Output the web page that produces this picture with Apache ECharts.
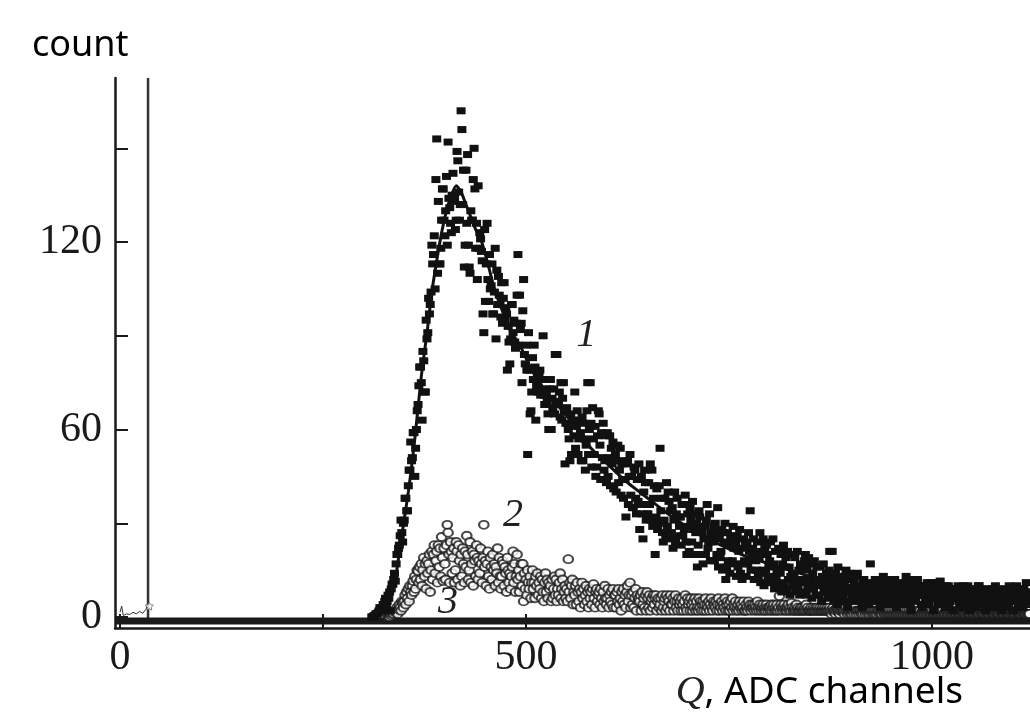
<!DOCTYPE html>
<html><head><meta charset="utf-8">
<script src="https://cdn.jsdelivr.net/npm/echarts@6/dist/echarts.min.js"></script>
<style>html,body{margin:0;padding:0;background:#fff}#c{width:1030px;height:718px}</style>
</head><body><div id="c"></div>
<script>
// axis ticks / labels
const xTicks = [0, 250, 500, 750, 1000];
const xLabels = [0, 500, 1000];
const yTicks = [0, 30, 60, 90, 120, 150];
const yLabels = [0, 60, 120];

// curve 1 (filled squares): one value per ADC channel, starting at channel s1Start
const s1Start = 310;
const s1 = [
0,0,0,0.5,0.5,1,1,1,1.5,2,
3,2,2,3,4,3,5,6,4,5,
7,6,8,2,9,10.5,10.5,12,14,11.5,
17,20,20,22,23,26,31,27,24,30,
31,38,38,34,34,42,47,47,56,50,
51,59,59,45,54,60,66,68,74,80,
80,75,63,85,82,72,72,95,89,91,
102,97,100,104,119,113,116,122,105,140,
153,110,133,113,113,118,127,137,137,127,
122,130,141,119,152,134,131,126,123,135,
142,133,134,124,127,149,146,136,127,132,
162,156,132,143,112,119,143,126,148,119,
112,110,130,127,127,140,150,137,118,126,
108,138,118,123,121,117,114,97,91,124,
101,113,126,108,101,116,105,106,113,97,
97,104,118,89,111,100,109,103,100,96,
107,94,102,107,95,99,97,79,93,88,
81,89,100,100,91,95,88,86,94,103,
116,87,103,92,94,75,98,108,84,81,
87,79,52,91,79,65,66,72,83,76,
87,80,63,74,78,72,77,79,71,76,
76,90,71,68,73,71,69,65,60,73,
76,60,70,67,73,65,84,69,84,68,
68,72,64,75,63,70,75,66,49,62,
67,62,60,57,50,65,52,52,63,58,
72,54,61,66,52,57,63,59,50,64,
50,62,57,47,55,66,75,52,60,75,
62,48,67,57,52,61,45,48,58,66,
65,55,44,59,51,62,47,50,58,43,
59,45,51,58,42,54,49,56,41,51,
52,40,50,55,43,47,54,39,49,44,
38,50,44,32,49,50,36,45,52,39,
45,35,35,48,47,38,33,44,37,49,
28,36,45,33,25,40,47,43,31,33,
33,43,36,49,31,47,29,38,42,20,
32,41,28,30,42,54,34,38,27,24,
31,38,26,43,29,40,37,25,34,27,
35,22,31,40,24,33,38,26,32,29,
32,23,36,26,36,28,39,24,20,33,
29,21,35,31,24,37,28,33,20,27,
30,16,23,34,32,20,29,27,17,25,
29,20,31,36,22,24,33,18,27,26,
24,29,18,30,27,20,35,16,25,19,
21,28,15,27,24,30,12,16,27,18,
23,14,26,25,18,29,22,17,24,13,
26,16,21,28,14,22,12,17,25,18,
23,13,24,17,27,21,34,15,19,22,
25,12,20,18,15,24,13,19,27,11,
21,15,25,10,22,14,23,20,12,16,
18,24,11,13,25,17,9,21,12,15,
15,22,10,14,20,8,17,23,11,16,
19,9,21,12,16,7,13,20,14,10,
13,19,8,12,21,10,15,7,17,11,
8,16,12,18,20,7,15,10,19,9,
12,17,6,14,9,18,11,7,16,10,
11,7,16,12,5,13,17,8,12,10,
14,9,6,15,21,12,7,21,10,5,
8,14,12,4,16,10,6,13,9,12,
7,13,11,5,15,9,3,12,8,14,
12,6,5,9,11,8,9,13,14,7,
6,9,10,5,3,11,12,7,8,10,
11,6,4,9,17,8,9,5,7,11,
12,8,5,9,10,6,3,11,9,7,
13,5,6,10,11,8,4,9,8,12,
10,7,6,11,12,5,3,8,9,10,
7,9,11,6,4,10,8,5,13,9,
6,11,10,4,2,9,8,12,11,6,
5,12,12,7,7,10,9,4,3,8,
10,7,6,9,11,5,4,8,8,11,
10,6,2,9,7,8,11,4,5,10,
11.5,7,6,9,9,5,3,10,8,6,
10,4,5,8,7,9,2,6,9,7,
6,9,10,5,4,7,8,3,3,10,
9,5,6,8,10,4,2,9,7,6,
5,8,9,4,3,7,7,10,10,5,
4,8,8,6,6,3,2,9,9,5,
5,7,8,4,3,9,7,6,10,5,
4,8,6,3,9,7,2,6,7,9,
5,6,8,4,3,10,9,5,6,8,
2,7,7,5,10,6,4,9,6,3,
8,5,3,9,7,4,11,6,5,8,
8
];

// curve 2 (open circles): one value per channel, starting at s2Start
const s2Start = 330;
const s2 = [
0,0.5,0,1,0.5,1,1.5,1,2,1.5,
2,3,1,2.5,4,3,2,5,4.5,3,
5,7,4,8,6,9,5,10,8,7,
10,11.5,8,13,9,12,15,14.7,11,16,
12,17,10,15,19,13,17,9,18,14,
17,20,8,15,21,12,20,23,14,18,
21,11,23,16,22,13,25.6,19,11.5,22,
17,12,23,29.5,27,20,11,24,21,14,
19,22,11,15,24,21,12,23,18,10,
20,13,22,17,11,21,16,26,20,12,
15,24,11,17,21,10,20,18,13,23,
19,12,18,14,22,17,11,19,29.5,16,
18,10,17,21,13,9,19,16,12,20,
15,17,10,16,14,22,11,19,13,9,
13,18,17,10,16,14,8,19,15,11,
14,9,13,16,21,11,17,8,13,20,
12,15,8,13,17,10,17,5,14,9,
12,7,15,11,9,13,6,11,15,9,
11,6,13,10,14,7,11,9,13,6,
12,8,5,11,14,8,12,6,11,9,
10,5,12,6,9,13,7,12,5,9,
7,11,14,6,9,12,5,8,10,6,
9,5,18.5,8,11,6,10,12,4,8,
7,10,4,11,8,5,9,3,8,11,
6,9,4,7,10,5,8,3,9,6,
8,4,9,10.5,6,3,8,9,5,7,
8,4,9,6,3,8,5,10,6,4,
6,9,3,7,5,8,4,9,3,7,
7,3,8,5,9,4,6,2,8,5,
9,4,7,3,8,10,5,7,11,3,
7,4,8,3,6,9,2,7,5,6,
5,7,2,8,4,6,3,7,2,8,
6,3,7,2,5,6,3,7,4,6,
7,2,5,6,3,4,6,2,7,3,
5,6,2,7,3,6,5,2,7,4,
4,6,2,5,7,3,5,2,6,4,
5,2,6,4,2,5,7,3,2,6,
4,5,2,6,4,2,5,3,6,2,
5,3,2,6,3,5,2,4,5,2,
4,6,2,4,3,5,2,4,6,3,
2,5,4,3,5,2,4,6,2,4,
3,5,2,4,3,6,2,4,5,2,
4,2,5,3,6,2,4,3,5,2,
3,4,2,5,3,4,2,3,5,2,
2,4,3,2,5,3,4,2,3,4,
3,2,4,3,2,5,3,2,4,3,
2,3,4,2,3,2,4,3,2,3,
3,2,4,2,3,4,2,3,2,4,
2,3,6.7,2,4,3,2,3,4,2,
3,2,3,4,2,3,2,4.5,3,2,
2,3,2,4,2,3,2,2,3,2,
3,2,2,3,2,4,2,3,2,2,
2,3,2,2,3,2,2,3,2,3,
2,2,3,2,2,3,2,2,3,2,
2,3,2,2,3,2,1,2,3,2,
2,1,2,3,2,2,1,2,2,3,
2,2,1,2,3,2,1,2,2,1,
2,1,2,2,1,3,2,1,2,2,
1,2,2,1,2,1,3,2,1,2,
2,1,2,1,2,2,1,2,1,2,
1,2,1,2,2,1,2,1,1,2,
2,1,1,2,1,2,1,1,2,1,
1,2,1,1,2,1,1,2,1,1,
2,1,1,2,1,1,2,1,1,2,
1,1,2,1,1,2,1,1,2,1,
1,2,1,1,1,2,1,1,1,2,
1,1,2,1,1,1,2,1,1,1,
2,1,1,1,2,1,1,1,1,2,
1,1,1,2,1,1,1,1,2,1,
1,1,2,1,1,1,1,2,1,1,
1,2,1,1,1,1,2,1,1,1,
1,1,1,2,1,1,1,1,1,2,
1,1,1,1,2,1,1,1,1,1,
2,1,1,1,1,1,2,1,1,1,
1,1,2,1,1,1,1,1,2,1,
1,1,1,1,2,1,1,1,1,1,
2,1,1,1,1,1,1,2,1,1,
1,1,1,1,2,1,1,1,1,1,
1,2,1,1,1,1,1,2,1,1,
1
];

// fitted curve through curve 1
const fit1 = [[308,0],[315,0.5],[320,2],[325,4],[330,7],[335,9.5],[339,12],[343,19],[347,26],[351,33],[355,40],[359,48],[363,57],[367,67],[371,77],[375,85],[379,93],[384,104],[390,114],[396,123],[402,130],[408,135],[414,138],[420,136],[426,132],[432,128],[438,124],[444,121],[450,116],[456,110],[462,104],[468,100],[475,95],[482,91],[490,88],[498,84],[507,79],[517,75],[530,70],[545,66],[560,61],[580,54],[600,49],[625,43],[650,38],[680,32],[710,27],[740,23],[770,19.5],[800,17],[850,13],[900,10],[950,8],[1000,6.5],[1060,5.5],[1120,5]];

// curve 3: flat near zero
const s3 = [[-6,-1.3],[1121,-1.3]];

// pedestal region
const pedestal = [[0,1.5],[2,3.5],[4,0.5],[8,1],[12,0.8],[16,1.5],[20,1],[24,1.8],[28,1.2],[32,2.5],[34,4]];
const pedestalStar = [[36,3.5]];
const cutLine = [[34.5,-1],[34.5,172.5]];

// curve number labels (data coordinates)
const curveLabels = [{text:'1', x:574, y:90}, {text:'2', x:484, y:32.6}, {text:'3', x:404, y:4.5}];

const toPairs = (start, arr) => arr.map((v, i) => [start + i, v]);

const chart = echarts.init(document.getElementById('c'), null, {renderer:'canvas'});
const serif = 'Liberation Serif';
chart.setOption({
  animation: false,
  backgroundColor: '#fff',
  grid: {left: 115, top: 78, right: 0, bottom: 90, containLabel: false},
  xAxis: {
    type: 'value', min: -6.2, max: 1120.6,
    axisLine: {onZero: false, lineStyle: {color: '#1a1a1a', width: 2.5}},
    axisTick: {show: true, inside: true, length: 14, customValues: xTicks, lineStyle: {color: '#1a1a1a', width: 2}},
    axisLabel: {customValues: xLabels, formatter: v => String(v), fontFamily: serif, fontSize: 42, color: '#1a1a1a', margin: 9},
    splitLine: {show: false}
  },
  yAxis: {
    type: 'value', min: -3.52, max: 172.5,
    axisLine: {show: true, onZero: false, lineStyle: {color: '#1a1a1a', width: 2.5}},
    axisTick: {show: true, inside: true, length: 13, customValues: yTicks, lineStyle: {color: '#1a1a1a', width: 2}},
    axisLabel: {customValues: yLabels, formatter: v => String(v), fontFamily: serif, fontSize: 42, color: '#1a1a1a', margin: 13},
    splitLine: {show: false}
  },
  series: [
    {type: 'line', data: cutLine, symbol: 'none', lineStyle: {color: '#333', width: 2.5}, silent: true, z: 1},
    {type: 'line', data: s3, symbol: 'none', lineStyle: {color: '#1a1a1a', width: 7}, silent: true, z: 2},
    {type: 'line', data: pedestal, symbol: 'none', lineStyle: {color: '#333', width: 1}, silent: true, z: 3},
    {type: 'scatter', data: pedestalStar, symbol: 'path://M0,-10L2.9,-4L9.5,-3.1L4.8,1.5L5.9,8.1L0,5L-5.9,8.1L-4.8,1.5L-9.5,-3.1L-2.9,-4Z', symbolSize: 8, itemStyle: {color: '#fff', borderColor: '#666', borderWidth: 1}, silent: true, z: 3},
    {type: 'scatter', data: toPairs(s2Start, s2), symbol: 'emptyCircle', symbolSize: [9.5, 8], itemStyle: {color: '#1a1a1a', borderColor: '#1a1a1a', borderWidth: 1.2}, silent: true, z: 4},
    {type: 'scatter', data: toPairs(s1Start, s1), symbol: 'rect', symbolSize: [9, 7], itemStyle: {color: '#111', opacity: 1}, silent: true, z: 5},
    {type: 'line', data: fit1, symbol: 'none', smooth: 0.2, lineStyle: {color: '#111', width: 3}, silent: true, z: 6}
  ]
});

const graphics = [
  {type: 'text', left: 32, top: 28, style: {text: 'count', font: '36px "Noto Sans"', fill: '#000'}},
  {type: 'text', style: {x: 963, y: 712, align: 'right', verticalAlign: 'bottom',
    text: '{q|Q}{s|, ADC channels}',
    rich: {q: {font: 'italic 40px "Liberation Serif"', fill: '#222'}, s: {font: '37px "Noto Sans"', fill: '#000'}}}}
];
curveLabels.forEach(l => {
  const p = chart.convertToPixel({gridIndex: 0}, [l.x, l.y]);
  graphics.push({type: 'text', style: {x: p[0], y: p[1], text: l.text, align: 'center', verticalAlign: 'middle',
    font: 'italic 40px "Liberation Serif"', fill: '#222'}});
});
chart.setOption({graphic: graphics});
</script>
</body></html>
